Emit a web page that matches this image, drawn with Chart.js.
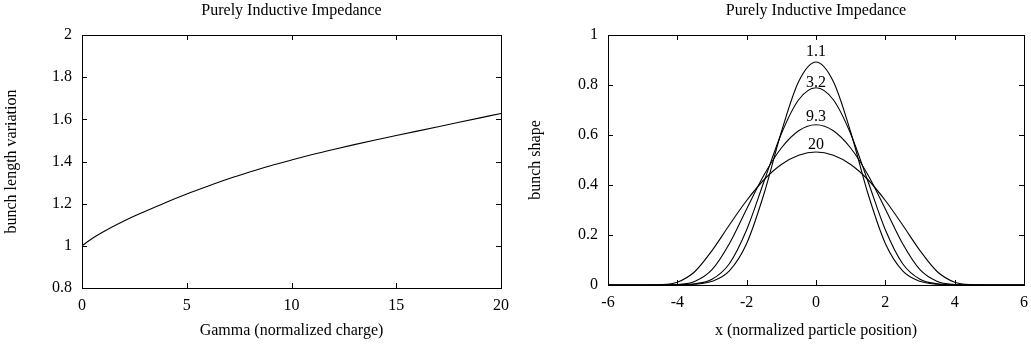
<!DOCTYPE html>
<html>
<head>
<meta charset="utf-8">
<title>Purely Inductive Impedance</title>
<script src="https://cdn.jsdelivr.net/npm/chart.js@4.4.1/dist/chart.umd.min.js"></script>
<style>
  html, body { margin: 0; padding: 0; background: #fff; }
  #wrap { position: relative; width: 1031px; height: 345px; }
  .box { position: absolute; top: 0; height: 345px; }
  #box-left { left: 0; width: 515px; }
  #box-right { left: 515px; width: 516px; }
</style>
</head>
<body>
<div id="wrap">
  <div class="box" id="box-left"><canvas id="chart-length" width="515" height="345"></canvas></div>
  <div class="box" id="box-right"><canvas id="chart-shape" width="516" height="345"></canvas></div>
</div>
<script>
// ---------------------------------------------
// Data
// ---------------------------------------------

// left panel: bunch length vs Gamma
const gammaValues = [0, 0.5, 1, 2, 3, 4, 5, 6, 7, 8, 9, 10, 11, 12, 13, 14, 15, 16, 17, 18, 19, 20];
const lengthVariation = [1.000, 1.036, 1.066, 1.118, 1.163, 1.206, 1.246, 1.283, 1.318, 1.350, 1.380,
                         1.407, 1.433, 1.457, 1.480, 1.502, 1.523, 1.544, 1.565, 1.586, 1.607, 1.628];

// right panel: bunch shapes for four values of Gamma
const positionValues = [-6, -5.5, -5, -4.5, -4, -3.5, -3, -2.5, -2, -1.5, -1, -0.5, 0,
                        0.5, 1, 1.5, 2, 2.5, 3, 3.5, 4, 4.5, 5, 5.5, 6];
const shapeG11 = [0, 0, 0, 0.0001, 0.0004, 0.0029, 0.0146, 0.0565, 0.166, 0.365, 0.612, 0.814, 0.892,
                  0.814, 0.612, 0.365, 0.166, 0.0565, 0.0146, 0.0029, 0.0004, 0.0001, 0, 0, 0];
const shapeG32 = [0, 0, 0, 0.0001, 0.0007, 0.0047, 0.0233, 0.0852, 0.221, 0.414, 0.605, 0.741, 0.789,
                  0.741, 0.605, 0.414, 0.221, 0.0852, 0.0233, 0.0047, 0.0007, 0.0001, 0, 0, 0];
const shapeG93 = [0, 0, 0, 0.0003, 0.0023, 0.0143, 0.0612, 0.165, 0.304, 0.440, 0.548, 0.617, 0.641,
                  0.617, 0.548, 0.440, 0.304, 0.165, 0.0612, 0.0143, 0.0023, 0.0003, 0, 0, 0];
const shapeG20 = [0, 0, 0.0001, 0.0015, 0.0114, 0.0531, 0.1375, 0.240, 0.338, 0.421, 0.482, 0.519, 0.532,
                  0.519, 0.482, 0.421, 0.338, 0.240, 0.1375, 0.0531, 0.0114, 0.0015, 0.0001, 0, 0];

// curve tags (text, and where they sit in data units)
const tagTexts = ['1.1', '3.2', '9.3', '20'];
const tagX = [0, 0, 0, 0];
const tagY = [0.933, 0.808, 0.672, 0.562];

// ---------------------------------------------
// Common look (gnuplot style)
// ---------------------------------------------

Chart.defaults.font.family = '"Liberation Serif", "Times New Roman", serif';
Chart.defaults.font.size = 16;
Chart.defaults.color = '#000';

const TICK_LEN = 5;

function toPoints(xs, ys) {
  return xs.map((x, i) => ({ x, y: ys[i] }));
}

function lineSet(xs, ys) {
  return {
    data: toPoints(xs, ys),
    showLine: true,
    borderColor: '#000',
    borderWidth: 1.1,
    pointRadius: 0,
    cubicInterpolationMode: 'monotone',
    fill: false,
  };
}

const oneDecimal = v => String(Number(v.toFixed(1)));

// box with inward ticks on all four sides
const frameTicks = {
  id: 'frameTicks',
  afterDatasetsDraw(chart) {
    const { ctx, chartArea: a, scales: { x, y } } = chart;
    ctx.save();
    ctx.strokeStyle = '#000';
    ctx.lineWidth = 1;
    ctx.strokeRect(a.left + 0.5, a.top + 0.5, a.right - a.left, a.bottom - a.top);
    ctx.beginPath();
    x.ticks.forEach(t => {
      const px = Math.round(x.getPixelForValue(t.value)) + 0.5;
      ctx.moveTo(px, a.bottom); ctx.lineTo(px, a.bottom - TICK_LEN);
      ctx.moveTo(px, a.top); ctx.lineTo(px, a.top + TICK_LEN);
    });
    y.ticks.forEach(t => {
      const py = Math.round(y.getPixelForValue(t.value)) + 0.5;
      ctx.moveTo(a.left, py); ctx.lineTo(a.left + TICK_LEN, py);
      ctx.moveTo(a.right, py); ctx.lineTo(a.right - TICK_LEN, py);
    });
    ctx.stroke();
    ctx.restore();
  }
};

const curveTags = {
  id: 'curveTags',
  afterDatasetsDraw(chart) {
    const { ctx, scales: { x, y } } = chart;
    ctx.save();
    ctx.font = '16px "Liberation Serif", "Times New Roman", serif';
    ctx.fillStyle = '#000';
    ctx.textAlign = 'center';
    ctx.textBaseline = 'middle';
    tagTexts.forEach((txt, i) => {
      ctx.fillText(txt, x.getPixelForValue(tagX[i]), y.getPixelForValue(tagY[i]));
    });
    ctx.restore();
  }
};

function baseOptions(cfg) {
  return {
    responsive: false,
    animation: false,
    layout: { padding: { left: 0, top: 0, right: cfg.padRight, bottom: 0 } },
    plugins: {
      legend: { display: false },
      tooltip: { enabled: false },
      title: {
        display: true,
        text: 'Purely Inductive Impedance',
        fullSize: false,
        font: { size: 16, weight: 'normal' },
        color: '#000',
        padding: { top: 1.5, bottom: 14.3 },
      },
    },
    scales: {
      x: {
        type: 'linear',
        min: cfg.xMin, max: cfg.xMax,
        grid: { display: false, drawTicks: false },
        border: { display: false },
        ticks: { stepSize: cfg.xStep, padding: 8, maxRotation: 0, callback: v => String(v) },
        title: { display: true, text: cfg.xTitle, padding: { top: 0, bottom: 5 } },
        afterFit: s => {
          s.height = cfg.xHeight;
          // labels may overhang the plot box, like gnuplot
          s.paddingLeft = 0;
          s.paddingRight = 0;
        },
      },
      y: {
        min: cfg.yMin, max: cfg.yMax,
        grid: { display: false, drawTicks: false },
        border: { display: false },
        ticks: { stepSize: 0.2, padding: 10, callback: oneDecimal },
        title: { display: true, text: cfg.yTitle, padding: { top: cfg.yTitlePad, bottom: 0 } },
        afterFit: s => { s.width = cfg.yWidth; },
      },
    },
  };
}

// ---------------------------------------------
// Left: bunch length variation
// ---------------------------------------------

new Chart(document.getElementById('chart-length'), {
  type: 'scatter',
  data: { datasets: [lineSet(gammaValues, lengthVariation)] },
  options: baseOptions({
    padRight: 14, xMin: 0, xMax: 20, xStep: 5, yMin: 0.8, yMax: 2,
    xTitle: 'Gamma (normalized charge)', yTitle: 'bunch length variation',
    xHeight: 57, yWidth: 82, yTitlePad: 2.5,
  }),
  plugins: [frameTicks],
});

// ---------------------------------------------
// Right: bunch shapes
// ---------------------------------------------

new Chart(document.getElementById('chart-shape'), {
  type: 'scatter',
  data: {
    datasets: [
      lineSet(positionValues, shapeG11),
      lineSet(positionValues, shapeG32),
      lineSet(positionValues, shapeG93),
      lineSet(positionValues, shapeG20),
    ]
  },
  options: baseOptions({
    padRight: 7, xMin: -6, xMax: 6, xStep: 2, yMin: 0, yMax: 1,
    xTitle: 'x (normalized particle position)', yTitle: 'bunch shape',
    xHeight: 60, yWidth: 93, yTitlePad: 11.5,
  }),
  plugins: [frameTicks, curveTags],
});
</script>
</body>
</html>
